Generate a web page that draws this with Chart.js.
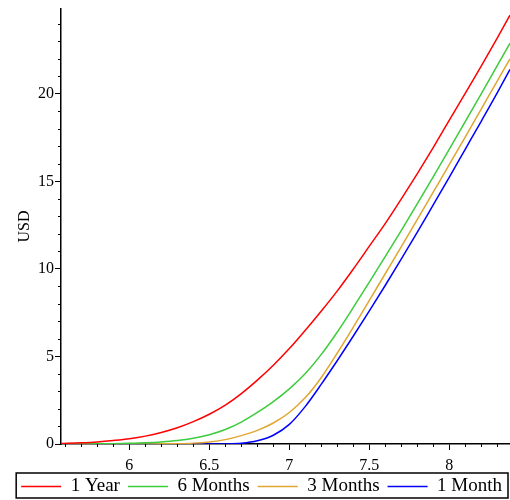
<!DOCTYPE html>
<html>
<head>
<meta charset="utf-8">
<script src="https://cdn.jsdelivr.net/npm/chart.js@4"></script>
<style>
  html, body { margin: 0; padding: 0; background: #fff; }
  #wrap { width: 510px; height: 500px; }
</style>
</head>
<body>
<div id="wrap"><canvas id="chart" width="510" height="500"></canvas></div>
<script>
// option value (USD) against the underlying, one curve per maturity
var xs = [5.573, 5.7, 5.8, 5.9, 6.0, 6.1, 6.2, 6.3, 6.4, 6.5, 6.6, 6.7, 6.8, 6.9, 7.0,
          7.1, 7.2, 7.3, 7.4, 7.5, 7.6, 7.7, 7.8, 7.9, 8.0, 8.1, 8.2, 8.3, 8.379];

var oneYear   = [0.03, 0.07, 0.12, 0.2, 0.3, 0.45, 0.66, 0.93, 1.28, 1.7, 2.22, 2.88, 3.65, 4.5, 5.45,
                 6.5, 7.6, 8.75, 10.0, 11.3, 12.6, 14.0, 15.45, 16.95, 18.5, 20.05, 21.6, 23.2, 24.5];
var sixMonths = [0.0, 0.005, 0.01, 0.02, 0.04, 0.07, 0.12, 0.2, 0.33, 0.53, 0.83, 1.25, 1.8, 2.42, 3.15,
                 4.03, 5.12, 6.4, 7.8, 9.25, 10.72, 12.2, 13.73, 15.28, 16.85, 18.43, 20.02, 21.63, 22.9];
var threeMonths = [0, 0, 0, 0, 0, 0.005, 0.01, 0.02, 0.05, 0.12, 0.25, 0.48, 0.78, 1.2, 1.8,
                 2.65, 3.8, 5.2, 6.68, 8.2, 9.74, 11.28, 12.83, 14.4, 15.97, 17.55, 19.15, 20.75, 22.0];
var oneMonth  = [0, 0, 0, 0, 0, 0, 0, 0, 0, 0, 0.005, 0.04, 0.18, 0.5, 1.12,
                 2.15, 3.42, 4.77, 6.17, 7.6, 9.07, 10.57, 12.1, 13.67, 15.25, 16.85, 18.45, 20.07, 21.4];

var seriesNames = ['1 Year', '6 Months', '3 Months', '1 Month'];
var seriesColors = ['#ff0000', '#3ccc3c', '#e0a630', '#0000ff'];

function pts(ys) {
    return xs.map(function (x, i) { return {x: x, y: ys[i]}; });
}

var serif = "'Liberation Serif', 'Times New Roman', serif";

// small unlabelled ticks between the major ones, plus the frame round the legend
var extras = {
    id: 'extras',
    afterLayout: function (chart) {
        // pull the legend row up a little, closer to the axis labels
        chart.legend.top -= 4;
        chart.legend.height += 4;
    },
    afterDraw: function (chart) {
        var c = chart.ctx, a = chart.chartArea;
        var sx = chart.scales.x, sy = chart.scales.y;
        c.save();
        c.strokeStyle = '#000';
        c.lineWidth = 1;
        c.beginPath();
        for (var k = 56; k <= 83; k++) {
            if (k % 5 === 0) continue;
            var px = Math.round(sx.getPixelForValue(k / 10)) + 0.5;
            c.moveTo(px, a.bottom);
            c.lineTo(px, a.bottom + 3);
        }
        for (var j = 1; j <= 24; j++) {
            if (j % 5 === 0) continue;
            var py = Math.round(sy.getPixelForValue(j)) + 0.5;
            c.moveTo(a.left - 3, py);
            c.lineTo(a.left, py);
        }
        c.stroke();

        var hb = chart.legend.legendHitBoxes;
        if (hb && hb.length) {
            var l = hb[0].left - 5;
            var last = hb[hb.length - 1];
            var r = Math.min(last.left + last.width + 6, chart.width - 1);
            var t = hb[0].top - 4;
            c.lineWidth = 1.5;
            c.strokeRect(l, t, r - l, 25);
        }
        c.restore();
    }
};

var ctx = document.getElementById('chart').getContext('2d');

new Chart(ctx, {
    type: 'line',
    data: {
        datasets: [oneYear, sixMonths, threeMonths, oneMonth].map(function (ys, i) {
            return {
                label: seriesNames[i],
                data: pts(ys),
                borderColor: seriesColors[i],
                backgroundColor: seriesColors[i],
                borderWidth: 1.5,
                pointRadius: 0,
                cubicInterpolationMode: 'monotone',
                fill: false
            };
        })
    },
    options: {
        responsive: false,
        animation: false,
        layout: { padding: { left: 0, top: 9, right: 0, bottom: 0 } },
        plugins: {
            tooltip: { enabled: false },
            legend: {
                position: 'bottom',
                align: 'end',
                maxHeight: 27,
                labels: {
                    usePointStyle: true,
                    pointStyle: 'line',
                    pointStyleWidth: 40,
                    padding: 8,
                    color: '#000',
                    font: { family: serif, size: 19 }
                }
            }
        },
        scales: {
            x: {
                type: 'linear',
                min: 5.573,
                max: 8.379,
                afterFit: function (s) { s.height = 29; },
                grid: { display: true, drawOnChartArea: false, tickLength: 6, tickColor: '#000', tickWidth: 1 },
                border: { display: true, color: '#000', width: 1.5 },
                ticks: {
                    stepSize: 0.5,
                    includeBounds: false,
                    autoSkip: false,
                    maxRotation: 0,
                    padding: 6,
                    color: '#000',
                    font: { family: serif, size: 16 },
                    callback: function (v) { return String(Math.round(v * 10) / 10); }
                }
            },
            y: {
                min: 0,
                max: 24.85,
                afterFit: function (s) {
                    s.width = 61;
                    s.paddingTop = 0;
                    s.paddingBottom = 0;
                },
                grid: { display: true, drawOnChartArea: false, tickLength: 6, tickColor: '#000', tickWidth: 1 },
                border: { display: true, color: '#000', width: 1.5 },
                title: {
                    display: true,
                    text: 'USD',
                    color: '#000',
                    padding: { top: 15, bottom: 4 },
                    font: { family: serif, size: 16 }
                },
                ticks: {
                    stepSize: 5,
                    includeBounds: false,
                    padding: 1,
                    color: '#000',
                    font: { family: serif, size: 16 }
                }
            }
        }
    },
    plugins: [extras]
});
</script>
</body>
</html>
